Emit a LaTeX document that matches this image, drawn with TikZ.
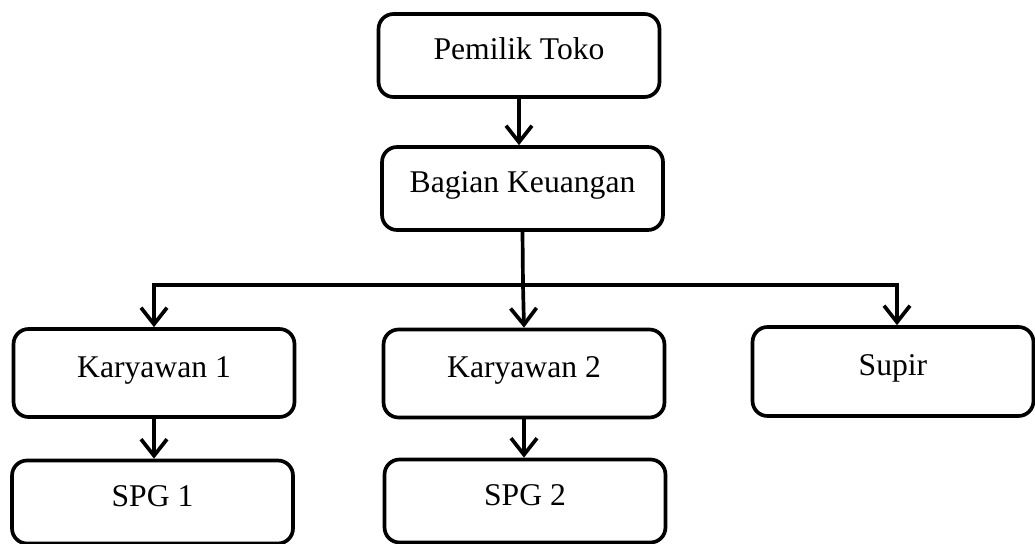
\documentclass[tikz,border=0pt]{standalone}
\usepackage{fontspec}
\setmainfont{Liberation Serif}
\usetikzlibrary{arrows.meta}

\tikzset{
	box/.style={draw, line width=2.1pt, rounded corners=0.3cm, minimum width=5.62cm, minimum height=1.66cm, text height=0.48cm, text depth=0.32cm, inner sep=0pt, font=\fontsize{18}{22}\selectfont},
	link/.style={line width=2.1pt, -{Straight Barb[length=0.33cm, width=0.52cm]}}
}

\begin{document}
\begin{tikzpicture}[x=0.02cm, y=-0.02cm]

	\useasboundingbox (0, 0) rectangle (1035, 544);

	\node[box] (pemilik) at (519, 55.5) {Pemilik Toko};
	\node[box] (bagian) at (522.5, 188.5) {Bagian Keuangan};
	
	\node[box, minimum height=1.76cm] (karyawan1) at (154, 373) {Karyawan 1};
	\node[box, minimum height=1.76cm] (karyawan2) at (524, 373.5) {Karyawan 2};
	\node[box, minimum height=1.78cm] (supir) at (893, 371.5) {Supir};
	
	\node[box] (spg1) at (152.5, 502) {SPG 1};
	\node[box] (spg2) at (525, 501) {SPG 2};

	\coordinate (cabang) at (523, 285);

	\draw[link] (pemilik.south) -- (pemilik.south |- bagian.north);
	\draw[line width=2.1pt] (bagian.south) -- (cabang);
	\draw[link] (cabang) -- (karyawan2.north);
	\draw[link] (cabang) -| (karyawan1.north);
	\draw[link] (cabang) -| ([xshift=0.08cm]supir.north);
	
	\draw[link] (karyawan1.south) -- (karyawan1.south |- spg1.north);
	\draw[link] (karyawan2.south) -- (karyawan2.south |- spg2.north);

\end{tikzpicture}
\end{document}
